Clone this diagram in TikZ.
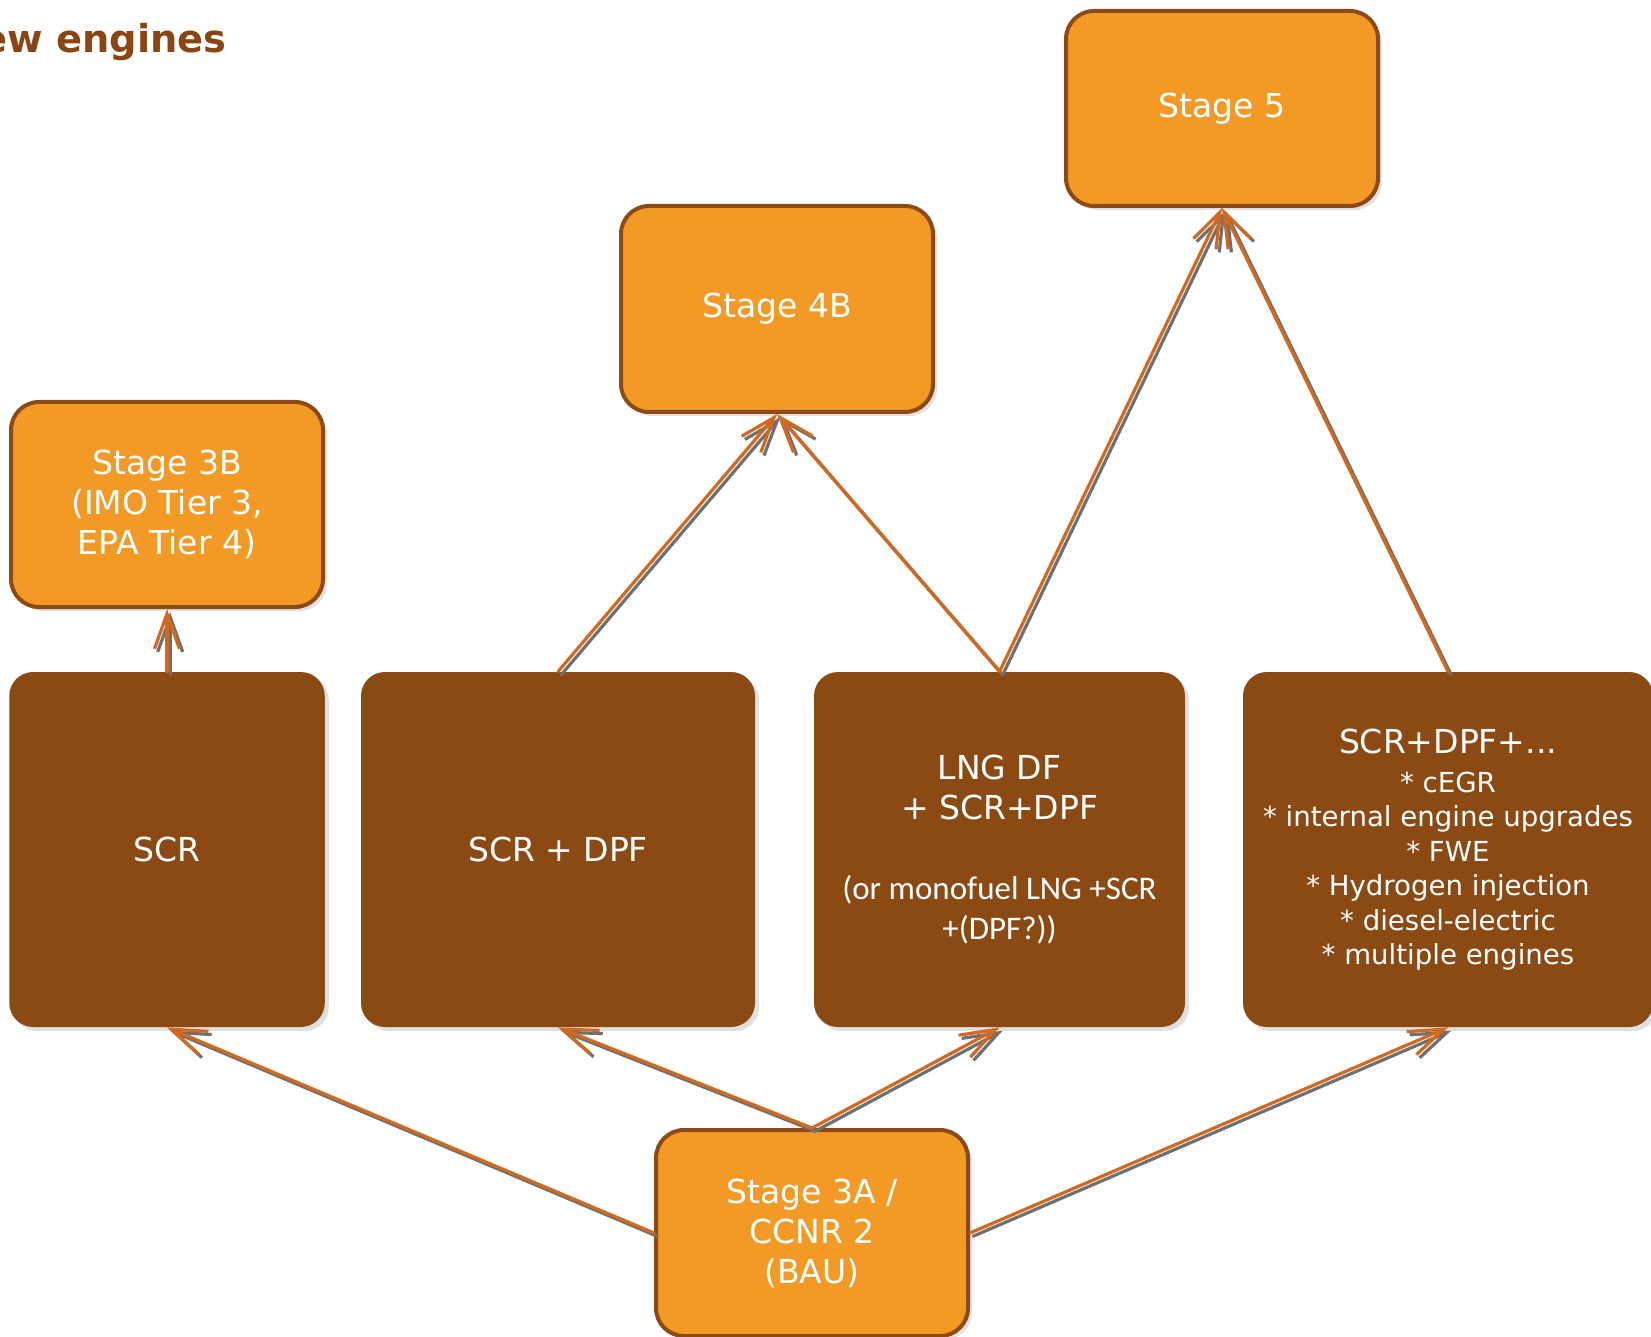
\documentclass[tikz,border=0pt]{standalone}
\usepackage{fontspec}
\setmainfont{DejaVu Sans}
\newfontfamily\carlito{Carlito}
\usetikzlibrary{arrows.meta,shadows}

\definecolor{stageorange}{HTML}{F39A26}
\definecolor{techbrown}{HTML}{8B4914}
\definecolor{edgebrown}{HTML}{8E4A14}
\definecolor{linkorange}{HTML}{D2691E}
\definecolor{linkgray}{HTML}{707070}
\definecolor{titlebrown}{HTML}{8B4513}

\begin{document}
\begin{tikzpicture}[x=0.5pt,y=-0.5pt,
  boxshadow/.style={drop shadow={shadow xshift=2pt,shadow yshift=-2pt,fill=black,opacity=0.12}},
  stagebox/.style={rectangle, rounded corners=14pt, draw=edgebrown, line width=2pt,
    fill=stageorange, text=white, align=center, inner sep=0pt, minimum width=156pt,
    font=\fontsize{16.5}{20}\selectfont, boxshadow},
  techbox/.style={rectangle, rounded corners=12pt, fill=techbrown, text=white,
    align=center, inner sep=0pt, minimum height=177.5pt,
    font=\fontsize{16.5}{20}\selectfont, boxshadow},
  linkbase/.style={line width=1.6pt, line cap=round, line join=round,
    -{Straight Barb[length=17.5pt,width=12.5pt]}},
  linkshade/.style={linkbase, draw=linkgray, transform canvas={xshift=1.6pt,yshift=-1.6pt}},
  link/.style={linkbase, draw=linkorange}
]
\useasboundingbox (0,0) rectangle (1651,1337);
\clip (0,0) rectangle (1651,1337);
\fill[white] (0,0) rectangle (1651,1337);

% heading
\node[anchor=base east, inner sep=0pt, text=titlebrown,
      font=\bfseries\fontsize{19.2}{23}\selectfont] (title) at (227,53) {ew engines};

% emission stages
\node[stagebox, minimum height=97.5pt] (st5) at (1222,108.5) {Stage 5};
\node[stagebox, minimum height=103pt] (st4b) at (777,309) {Stage 4B};
\node[stagebox, minimum height=102.5pt] (st3b) at (167,504.5) {Stage 3B\\(IMO Tier 3,\\EPA Tier 4)};
\node[stagebox, minimum height=103pt] (st3a) at (812,1233) {Stage 3A /\\CCNR 2\\(BAU)};

% technology options
\node[techbox, minimum width=157.75pt] (scr) at (167,849.5) {SCR};
\node[techbox, minimum width=197pt] (scrdpf) at (558,849.5) {SCR + DPF};
\node[techbox, minimum width=185.5pt] (lng) at (999.5,849.5)
  {LNG DF\\+ SCR+DPF\\[20pt]{\carlito (or monofuel LNG +SCR}\\{\carlito +(DPF?))}};
\node[techbox, minimum width=205pt, font=\fontsize{13.8}{17.25}\selectfont] (multi) at (1448,849.5)
  {{\fontsize{16.5}{20}\selectfont SCR+DPF+...}\\[2.25pt]* cEGR\\* internal engine upgrades\\* FWE\\* Hydrogen injection\\* diesel-electric\\* multiple engines};

% upgrade paths: grey shade first, orange line on top
\foreach \src/\dst in {scr.north/st3b.south, scrdpf.north/st4b.south,
    lng.north/st4b.south, lng.north/st5.south, multi.north/st5.south,
    st3a.west/scr.south, st3a.north/scrdpf.south, st3a.north/lng.south,
    st3a.east/multi.south}
  \draw[linkshade] (\src) -- (\dst);
\foreach \src/\dst in {scr.north/st3b.south, scrdpf.north/st4b.south,
    lng.north/st4b.south, lng.north/st5.south, multi.north/st5.south,
    st3a.west/scr.south, st3a.north/scrdpf.south, st3a.north/lng.south,
    st3a.east/multi.south}
  \draw[link] (\src) -- (\dst);
\end{tikzpicture}
\end{document}
